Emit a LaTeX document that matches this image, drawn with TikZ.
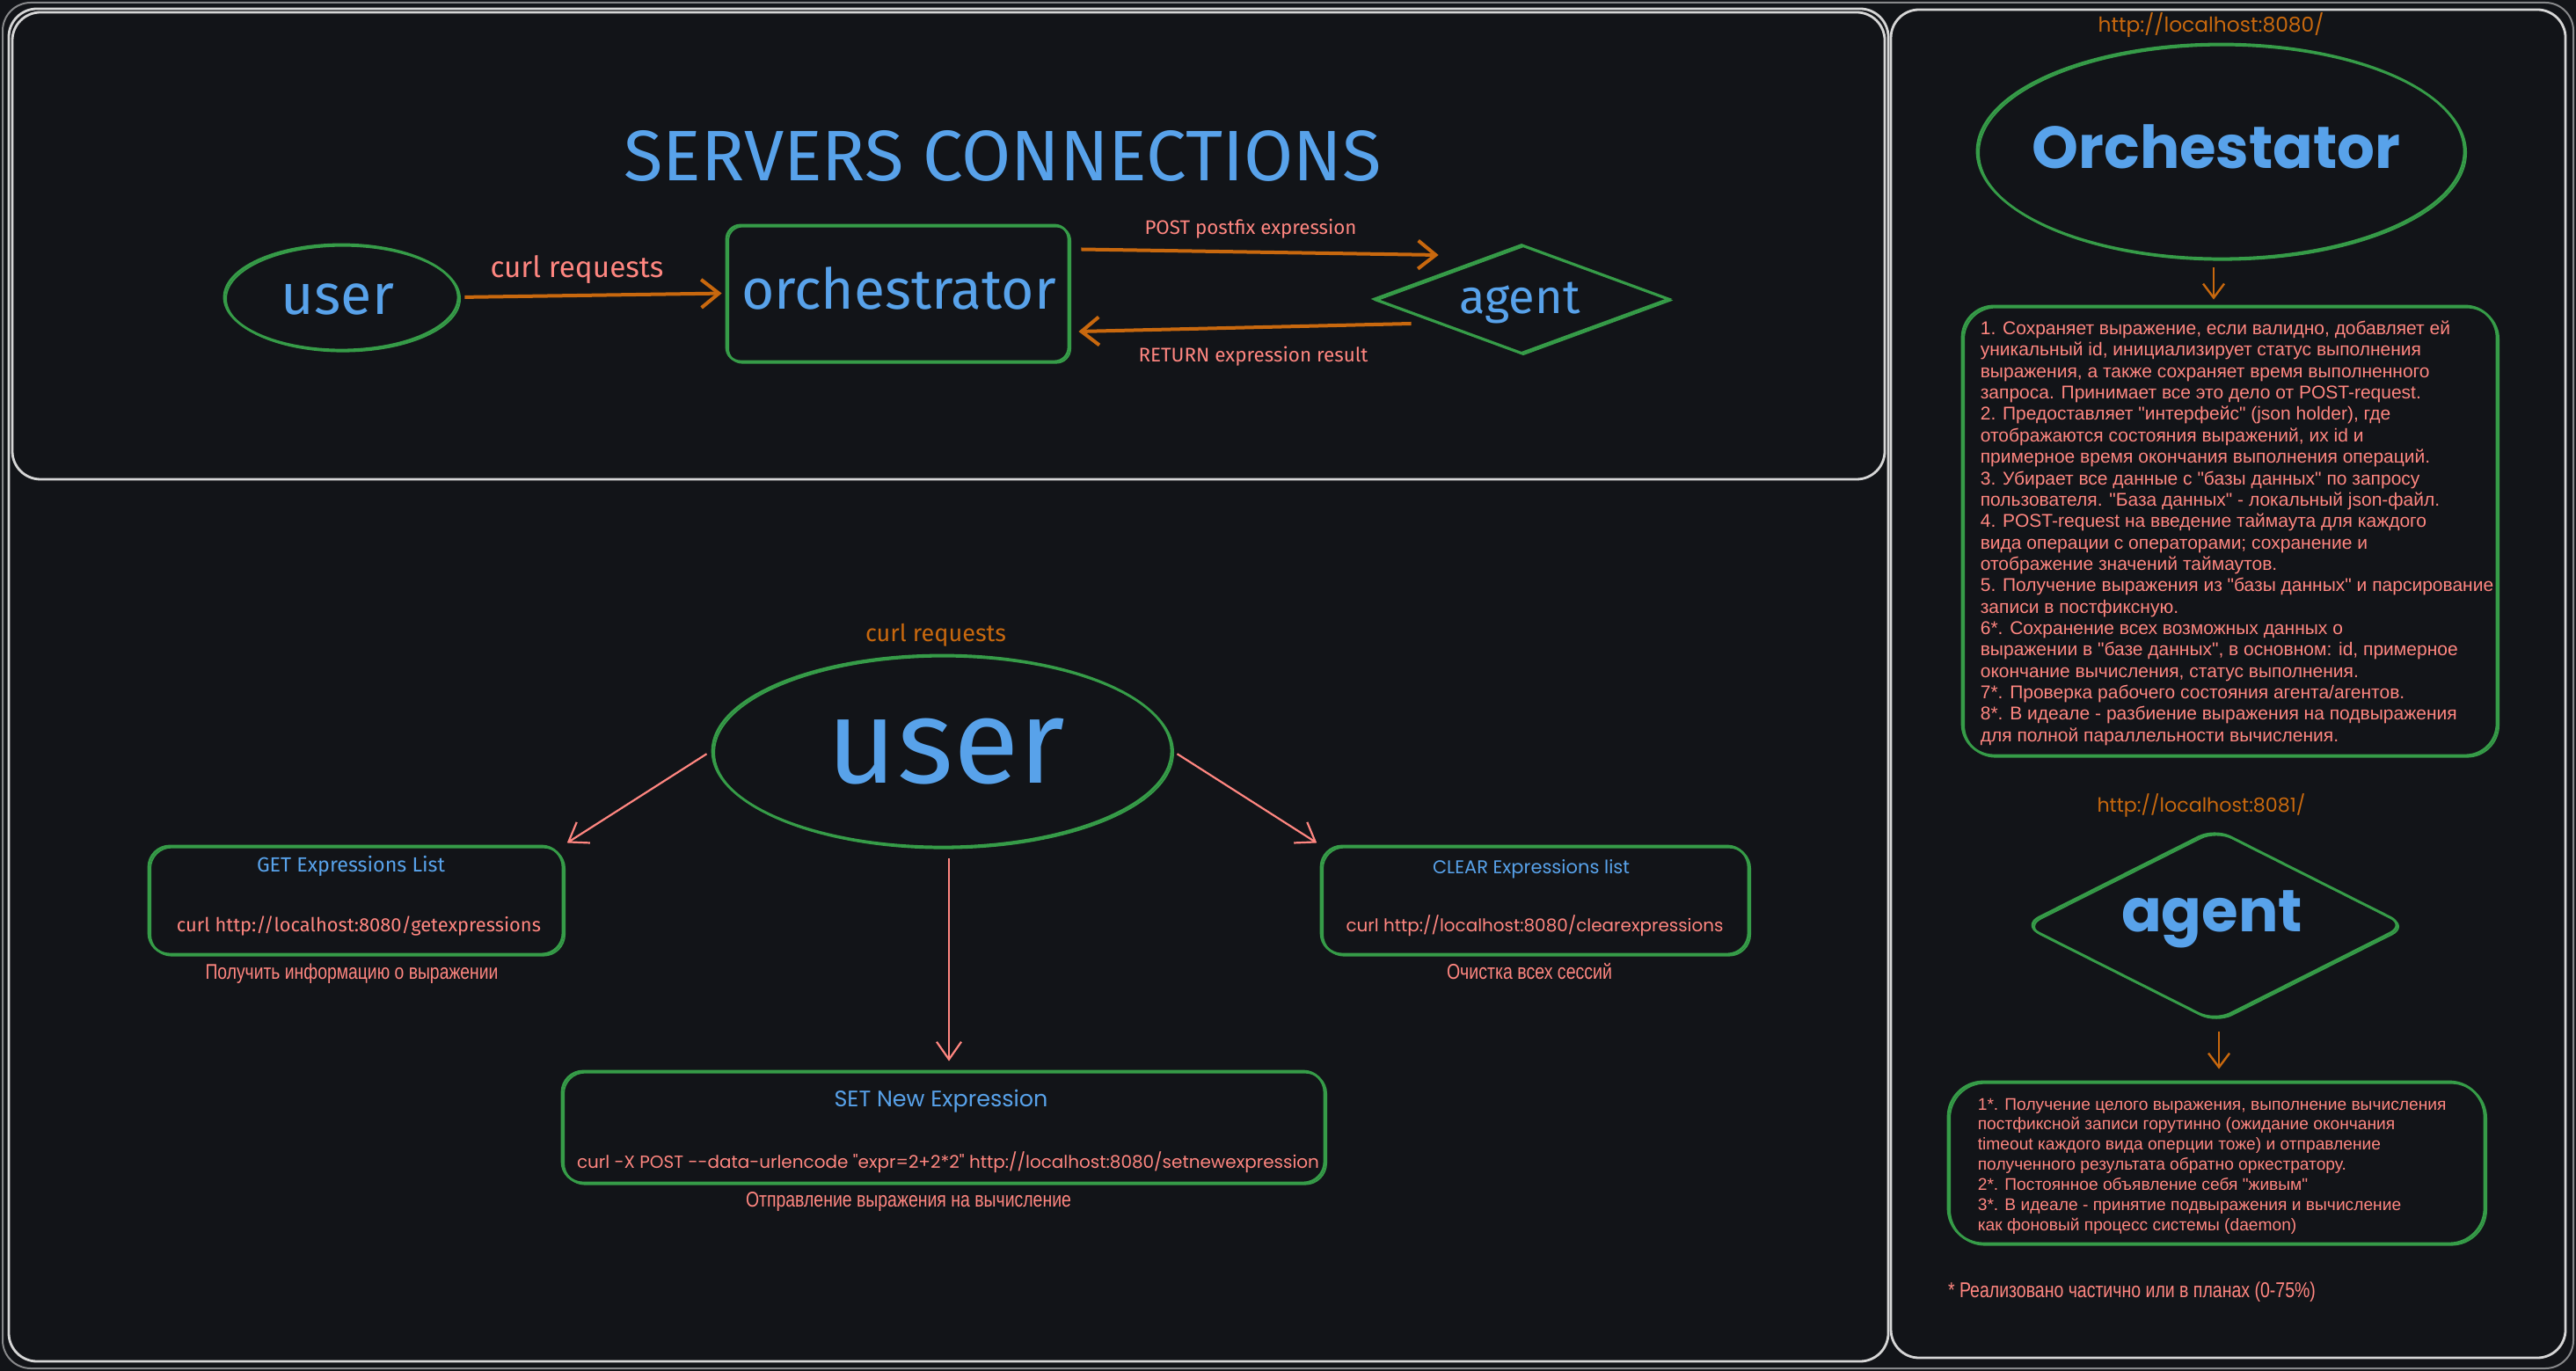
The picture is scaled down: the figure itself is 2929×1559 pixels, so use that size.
\documentclass[tikz,border=0pt]{standalone}
\usepackage{fontspec}
\usepackage{graphicx}
\usetikzlibrary{shapes.geometric,arrows.meta,calc}
\newfontfamily\hand{Fira Sans}
\newfontfamily\excal{Poppins}
\newfontfamily\ru{Liberation Sans}
\newfontfamily\runar[FakeStretch=0.8]{Liberation Sans}
\newdimen\PXd \PXd=0.25pt
\newcommand\fitw[2]{\resizebox{#1\PXd}{!}{#2}}
\definecolor{bg}{RGB}{18,20,24}
\definecolor{frame}{RGB}{214,214,214}
\definecolor{grn}{RGB}{54,156,72}
\definecolor{blu}{RGB}{88,162,234}
\definecolor{org}{RGB}{200,104,14}
\definecolor{sal}{RGB}{255,134,128}
\tikzset{
  frm/.style={draw=frame, line width=0.7pt, rounded corners=8pt},
  shp/.style={draw=grn, line width=0.7pt, inner sep=0pt,
     postaction={draw=grn, line width=0.5pt, transform canvas={shift={(0.5pt,-0.4pt)}}}},
  txt/.style={inner sep=0pt, anchor=center},
  arr/.style={draw=org, line width=1pt, -{Straight Barb[length=5pt,width=8pt]}},
  arrthin/.style={draw=org, line width=0.6pt, -{Straight Barb[length=4pt,width=6pt]}},
  sarr/.style={draw=sal, line width=0.55pt, -{Straight Barb[length=5pt,width=7pt]}},
}
\begin{document}
\begin{tikzpicture}[x=0.25pt,y=-0.25pt]
\fill[bg] (0,0) rectangle (2929,1559);
\useasboundingbox (0,0) rectangle (2929,1559);
% frames
\draw[frm, draw opacity=0.6, line width=0.5pt] (3,3) rectangle (2926,1556);
\draw[frm] (10,10) rectangle (2147,1548);
\draw[frm] (14,14) rectangle (2143,545);
\draw[frm] (2150,11) rectangle (2917,1544);

% ---- top section
\node[txt, text=blu] (title) at (1140,177) {\fitw{861}{\hand SERVERS CONNECTIONS}};
\node[shp, ellipse, minimum width=266*\PXd, minimum height=120*\PXd] (u1) at (388,338) {};
\node[txt, text=blu] (u1t) at (384,340) {\fitw{128}{\hand user}};
\node[shp, rectangle, rounded corners=4pt, minimum width=389*\PXd, minimum height=155*\PXd] (o1) at (1020.5,333.5) {};
\node[txt, text=blu] (o1t) at (1022,328) {\fitw{358}{\hand orchestrator}};
\node[shp, diamond, aspect=2.7, minimum width=336*\PXd, minimum height=124*\PXd] (a1) at (1730,340) {};
\node[txt, text=blu] (a1t) at (1728,344) {\fitw{137}{\hand agent}};

\draw[arr, shorten <=1.5pt, shorten >=1pt] (u1.east) -- (o1.west);
\draw[arr] ($(o1.east)+(13,-50)$) -- ($(a1.west)+(75,-50)$);
\draw[arr] ($(a1.west)+(44,28)$) -- ($(o1.east)+(10,43.5)$);
\node[txt, text=sal] (l1) at (656,307) {\fitw{197}{\hand curl requests}};
\node[txt, text=sal] (l2) at (1422,260) {\fitw{241}{\hand POST postfix expression}};
\node[txt, text=sal] (l3) at (1425,405) {\fitw{261}{\hand RETURN expression result}};

% ---- bottom left section
\node[txt, text=org] (cr) at (1064,722) {\fitw{160}{\hand curl requests}};
\node[shp, ellipse, minimum width=522*\PXd, minimum height=218*\PXd] (u2) at (1071,854) {};
\node[txt, text=blu] (u2t) at (1076,855) {\fitw{270}{\hand user}};

\node[shp, rectangle, rounded corners=6pt, minimum width=471*\PXd, minimum height=123*\PXd] (get) at (404.5,1023.5) {};
\node[txt, text=blu] (gett) at (399,985) {\fitw{214}{\hand GET Expressions List}};
\node[txt, text=sal] (getc) at (408,1053) {\fitw{414}{\hand curl http://localhost:8080/getexpressions}};
\node[txt, text=sal] (getd) at (400,1107) {\fitw{333}{\runar Получить информацию о выражении}};

\node[shp, rectangle, rounded corners=6pt, minimum width=486*\PXd, minimum height=123*\PXd] (clr) at (1745,1023.5) {};
\node[txt, text=blu] (clrt) at (1741,988) {\fitw{224}{\excal CLEAR Expressions list}};
\node[txt, text=sal] (clrc) at (1745,1053) {\fitw{429}{\excal curl http://localhost:8080/clearexpressions}};
\node[txt, text=sal] (clrd) at (1739,1105) {\fitw{188}{\runar Очистка всех сессий}};

\node[shp, rectangle, rounded corners=6pt, minimum width=867*\PXd, minimum height=127*\PXd] (set) at (1072.5,1281.5) {};
\node[txt, text=blu] (sett) at (1070,1252) {\fitw{243}{\excal SET New Expression}};
\node[txt, text=sal] (setc) at (1078,1322) {\fitw{844}{\excal curl -X POST -{}-data-urlencode "expr=2+2*2" http://localhost:8080/setnewexpression}};
\node[txt, text=sal] (setd) at (1033,1367) {\fitw{370}{\runar Отправление выражения на вычисление}};

\draw[sarr, shorten <=1.5pt, shorten >=1pt] (u2.west) -- (get.north east);
\draw[sarr, shorten <=1.5pt, shorten >=1pt] (u2.east) -- (clr.north west);
\draw[sarr, shorten <=3pt, shorten >=2.5pt] ($(u2.south)+(8,0)$) -- ($(set.north)+(6.5,0)$);

% ---- right panel
\node[txt, text=org] (h1) at (2514,29) {\fitw{257}{\excal http://localhost:8080/}};
\node[shp, ellipse, minimum width=554*\PXd, minimum height=244*\PXd] (orR) at (2525,172) {};
\node[txt, text=blu] (orRt) at (2520,167) {\fitw{419}{\excal\bfseries Orchestator}};
\node[shp, rectangle, rounded corners=9pt, minimum width=608*\PXd, minimum height=511*\PXd] (b1) at (2535,603.5) {};
\node[inner sep=0pt, anchor=base west, text=sal, font=\ru\fontsize{5.25pt}{6.09pt}\selectfont] (b1t) at (2251,380.5) {\begin{tabular}[t]{@{}l@{}}
1. Сохраняет выражение, если валидно, добавляет ей\\
уникальный id, инициализирует статус выполнения\\
выражения, а также сохраняет время выполненного\\
запроса. Принимает все это дело от POST-request.\\
2. Предоставляет "интерфейс" (json holder), где\\
отображаются состояния выражений, их id и\\
примерное время окончания выполнения операций.\\
3. Убирает все данные с "базы данных" по запросу\\
пользователя. "База данных" - локальный json-файл.\\
4. POST-request на введение таймаута для каждого\\
вида операции с операторами; сохранение и\\
отображение значений таймаутов.\\
5. Получение выражения из "базы данных" и парсирование\\
записи в постфиксную.\\
6*. Сохранение всех возможных данных о\\
выражении в "базе данных", в основном: id, примерное\\
окончание вычисления, статус выполнения.\\
7*. Проверка рабочего состояния агента/агентов.\\
8*. В идеале - разбиение выражения на подвыражения\\
для полной параллельности вычисления.
\end{tabular}};
\draw[arrthin, shorten <=2.25pt, shorten >=1.5pt] ($(orR.south)+(-8,0)$) -- ($(b1.north)+(-18,0)$);

\node[txt, text=org] (h2) at (2503,916) {\fitw{237}{\excal http://localhost:8081/}};
\node[shp, diamond, aspect=2, rounded corners=5pt, minimum width=436*\PXd, minimum height=220*\PXd] (agR) at (2518,1052) {};
\node[txt, text=blu] (agRt) at (2515,1045) {\fitw{206}{\excal\bfseries agent}};
\node[shp, rectangle, rounded corners=10pt, minimum width=610*\PXd, minimum height=184*\PXd] (b2) at (2520,1322) {};
\node[inner sep=0pt, anchor=base west, text=sal, font=\ru\fontsize{4.8pt}{5.73pt}\selectfont] (b2t) at (2248,1262) {\begin{tabular}[t]{@{}l@{}}
1*. Получение целого выражения, выполнение вычисления\\
постфиксной записи горутинно (ожидание окончания\\
timeout каждого вида оперции тоже) и отправление\\
полученного результата обратно оркестратору.\\
2*. Постоянное объявление себя "живым"\\
3*. В идеале - принятие подвыражения и вычисление\\
как фоновый процесс системы (daemon)
\end{tabular}};
\draw[arrthin, shorten <=2.5pt, shorten >=3.25pt] ($(agR.south)+(5,0)$) -- ($(b2.north)+(3,0)$);
\node[txt, text=sal] (fn) at (2424,1469) {\fitw{418}{\runar * Реализовано частично или в планах (0-75\%)}};
\end{tikzpicture}
\end{document}
